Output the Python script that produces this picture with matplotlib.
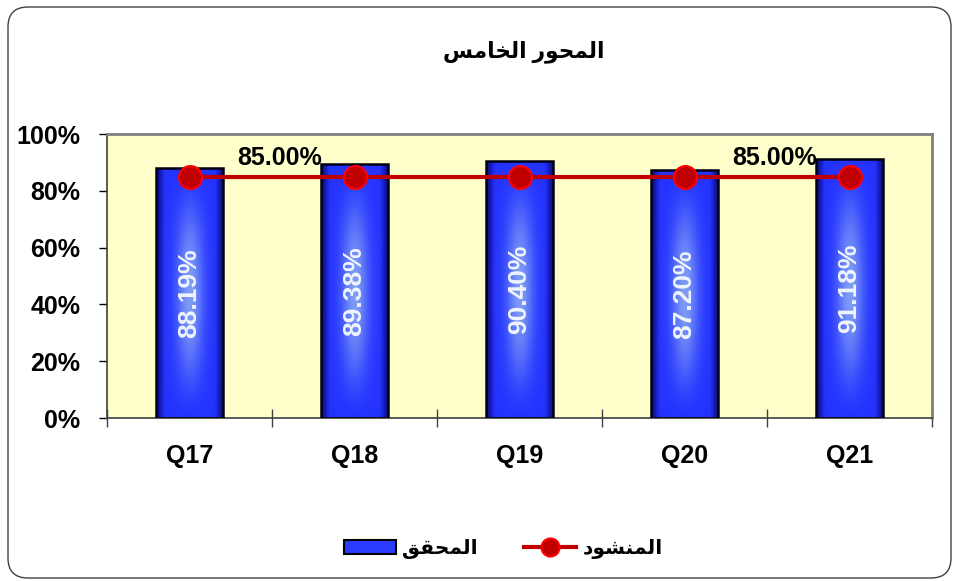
import numpy as np
import matplotlib
matplotlib.use('Agg')
import matplotlib.pyplot as plt
from matplotlib.patches import FancyBboxPatch, Patch
from matplotlib.lines import Line2D
from matplotlib.transforms import IdentityTransform
from matplotlib.ticker import FuncFormatter

# data
quarters = ['Q17', 'Q18', 'Q19', 'Q20', 'Q21']
achieved = [88.19, 89.38, 90.40, 87.20, 91.18]
target = [85.0, 85.0, 85.0, 85.0, 85.0]
target_label_idx = [0, 3]   # only these points carry a label

title_text = 'المحور الخامس'
achieved_name = 'المحقق'
target_name = 'المنشود'

# matplotlib has no arabic shaping -> tiny shaper with presentation forms
forms = {
    'ا': (0xFE8D, 0xFE8E, None, None),
    'ل': (0xFEDD, 0xFEDE, 0xFEDF, 0xFEE0),
    'م': (0xFEE1, 0xFEE2, 0xFEE3, 0xFEE4),
    'ح': (0xFEA1, 0xFEA2, 0xFEA3, 0xFEA4),
    'و': (0xFEED, 0xFEEE, None, None),
    'ر': (0xFEAD, 0xFEAE, None, None),
    'خ': (0xFEA5, 0xFEA6, 0xFEA7, 0xFEA8),
    'س': (0xFEB1, 0xFEB2, 0xFEB3, 0xFEB4),
    'ق': (0xFED5, 0xFED6, 0xFED7, 0xFED8),
    'ن': (0xFEE5, 0xFEE6, 0xFEE7, 0xFEE8),
    'ش': (0xFEB5, 0xFEB6, 0xFEB7, 0xFEB8),
    'د': (0xFEA9, 0xFEAA, None, None),
}


def shape(text):
    out = []
    for i, ch in enumerate(text):
        if ch not in forms:
            out.append(ch)
            continue
        iso, fin, ini, med = forms[ch]
        prev = text[i - 1] if i > 0 else ''
        nxt = text[i + 1] if i + 1 < len(text) else ''
        join_prev = prev in forms and forms[prev][2] is not None
        join_next = nxt in forms and ini is not None
        if join_prev and join_next:
            out.append(chr(med))
        elif join_prev:
            out.append(chr(fin))
        elif join_next:
            out.append(chr(ini))
        else:
            out.append(chr(iso))
    return ''.join(out)[::-1]


plt.rcParams['font.family'] = ['Liberation Sans', 'DejaVu Sans']
plt.rcParams['font.weight'] = 'bold'

fig = plt.figure(figsize=(9.56, 5.81), dpi=100)

# rounded outer frame
frame = FancyBboxPatch((8, 3), 943, 571, boxstyle='round,pad=0,rounding_size=20',
                       transform=IdentityTransform(), fc='none', ec='#404040',
                       lw=1.0, zorder=-1)
fig.patches.append(frame)

ax = fig.add_axes([107 / 956, 1 - 418 / 581, 825 / 956, 284 / 581])
ax.set_facecolor('#FFFFCC')

x = np.arange(len(quarters))
bars = ax.bar(x, achieved, width=0.41, facecolor='none', edgecolor='#000010',
              linewidth=1.8, zorder=3)

# glossy blue fill for the bars
u = np.linspace(0, 1, 80)
v = np.linspace(0, 1, 160)
U, V = np.meshgrid(u, v)
base = np.array([0.14, 0.2, 1.0])
dark = np.array([0.03, 0.03, 0.45])
light = np.array([0.62, 0.76, 0.95])
edge = np.clip(np.minimum(U, 1 - U) / 0.13, 0, 1)[..., None]
glow = (np.exp(-((U - 0.5) / 0.2) ** 2) * np.sin(np.pi * V) ** 1.5)[..., None]
img = base * edge + dark * (1 - edge)
img = img * (1 - 0.75 * glow) + light * 0.75 * glow

for b in bars:
    im = ax.imshow(img, extent=[b.get_x(), b.get_x() + b.get_width(), 0, b.get_height()],
                   origin='lower', aspect='auto', interpolation='bilinear', zorder=2)
    im.set_clip_path(b)

for xi, val in zip(x, achieved):
    ax.text(xi, val / 2, f'{val:.2f}%', rotation=90, ha='center', va='center',
            color='#F0F4FF', fontsize=19, fontweight='bold', zorder=4)

ax.plot(x, target, color='#C00000', lw=3, marker='o', ms=16.5,
        mfc='#C00000', mec='#FF0000', mew=1.5, zorder=5)

for i in target_label_idx:
    ax.annotate(f'{target[i]:.2f}%', (x[i], target[i]), xytext=(90, 19),
                textcoords='offset pixels', ha='center', va='center',
                fontsize=18, fontweight='bold', zorder=6)

ax.set_xlim(-0.5, len(quarters) - 0.5)
ax.set_ylim(0, 100)
ax.set_yticks(np.arange(0, 101, 20))
ax.yaxis.set_major_formatter(FuncFormatter(lambda val, pos: f'{val:.0f}%'))
ax.tick_params(axis='y', direction='out', length=6, width=1, pad=13, labelsize=18)
ax.set_xticks(x)
ax.set_xticklabels(quarters)
ax.tick_params(axis='x', which='major', length=0, pad=19, labelsize=18)
ax.set_xticks(np.arange(-0.5, len(quarters), 1), minor=True)
ax.tick_params(axis='x', which='minor', direction='inout', length=13, width=1,
               color='#404040')

for s in ['top', 'right']:
    ax.spines[s].set_color('#808080')
    ax.spines[s].set_linewidth(2)
for s in ['left', 'bottom']:
    ax.spines[s].set_color('#404040')
    ax.spines[s].set_linewidth(1.2)

fig.text(524 / 956, 1 - 52 / 581, shape(title_text), ha='center', va='center',
         fontsize=15.7, fontweight='bold')

handles = [Patch(fc='#2a3cff', ec='black', lw=1.5),
           Line2D([], [], color='#C00000', lw=3, marker='o', ms=13,
                  mfc='#C00000', mec='#FF0000', mew=1.5)]
fig.legend(handles, [shape(achieved_name), shape(target_name)], loc='center',
           bbox_to_anchor=(503 / 956, 1 - 549 / 581), ncol=2, frameon=False,
           fontsize=14.5, handlelength=2.6, columnspacing=2.3, handletextpad=0.3)

fig.savefig('out.png', dpi=100)
